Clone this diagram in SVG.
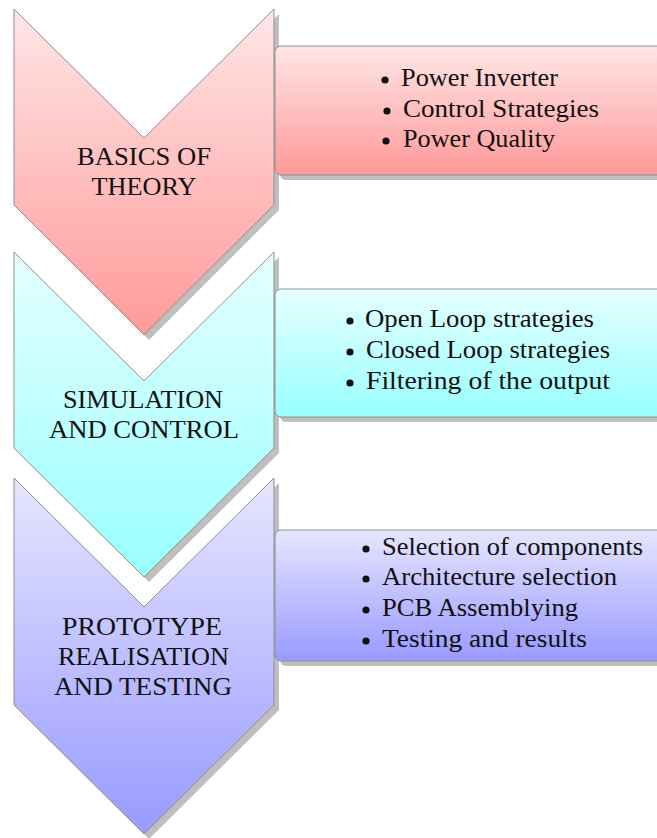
<svg xmlns="http://www.w3.org/2000/svg" width="657" height="838" viewBox="0 0 657 838">
  <defs>
    <linearGradient id="gRed" x1="0" y1="0" x2="0" y2="1">
      <stop offset="0" stop-color="#ffe6e6"/>
      <stop offset="1" stop-color="#ff9999"/>
    </linearGradient>
    <linearGradient id="gCyan" x1="0" y1="0" x2="0" y2="1">
      <stop offset="0" stop-color="#e6ffff"/>
      <stop offset="1" stop-color="#99ffff"/>
    </linearGradient>
    <linearGradient id="gBlue" x1="0" y1="0" x2="0" y2="1">
      <stop offset="0" stop-color="#e6e6ff"/>
      <stop offset="1" stop-color="#9999ff"/>
    </linearGradient>
    <style>
      .shadow { fill: #bfbfbf; }
      .edge { stroke: #8f8f8f; stroke-width: 1; }
      text { font-family: "Liberation Serif", Tinos, "Times New Roman", Times, "Nimbus Roman", "Nimbus Roman No9 L", "Noto Serif", "DejaVu Serif", FreeSerif, serif; font-size: 26px; fill: #111; }
      .mid { text-anchor: middle; }
      .dot { fill: #111; }
    </style>
  </defs>

  <rect width="657" height="838" fill="#ffffff"/>

  <!-- Stage 1: basics of theory -->
  <g id="stage1">
    <polygon class="shadow" points="19,14 149,143 279,14 279,210 149,340 19,210"/>
    <polygon class="edge" fill="url(#gRed)" points="14,9 144,138 274,9 274,205 144,335 14,205"/>
    <text class="mid" x="144" y="165" textLength="134" lengthAdjust="spacingAndGlyphs">BASICS OF</text>
    <text class="mid" x="144" y="195" textLength="105" lengthAdjust="spacingAndGlyphs">THEORY</text>
  </g>
  <g id="details1">
    <rect class="shadow" x="280" y="51" width="400" height="129" rx="6"/>
    <rect class="edge" fill="url(#gRed)" x="275" y="46" width="400" height="129" rx="6"/>
    <circle class="dot" cx="385" cy="80" r="3.6"/>
    <text x="401" y="86" textLength="157" lengthAdjust="spacingAndGlyphs">Power Inverter</text>
    <circle class="dot" cx="387" cy="111" r="3.6"/>
    <text x="403" y="117" textLength="196" lengthAdjust="spacingAndGlyphs">Control Strategies</text>
    <circle class="dot" cx="386" cy="141" r="3.6"/>
    <text x="403" y="147" textLength="152" lengthAdjust="spacingAndGlyphs">Power Quality</text>
  </g>

  <!-- Stage 2: simulation and control -->
  <g id="stage2">
    <polygon class="shadow" points="19,257 149,386 279,257 279,453 149,582 19,453"/>
    <polygon class="edge" fill="url(#gCyan)" points="14,252 144,381 274,252 274,448 144,577 14,448"/>
    <text class="mid" x="143" y="408" textLength="160" lengthAdjust="spacingAndGlyphs">SIMULATION</text>
    <text class="mid" x="144" y="438" textLength="190" lengthAdjust="spacingAndGlyphs">AND CONTROL</text>
  </g>
  <g id="details2">
    <rect class="shadow" x="280" y="294" width="400" height="128" rx="6"/>
    <rect class="edge" fill="url(#gCyan)" x="275" y="289" width="400" height="128" rx="6"/>
    <circle class="dot" cx="350" cy="321" r="3.6"/>
    <text x="365" y="327" textLength="229" lengthAdjust="spacingAndGlyphs">Open Loop strategies</text>
    <circle class="dot" cx="350" cy="352" r="3.6"/>
    <text x="366" y="358" textLength="244" lengthAdjust="spacingAndGlyphs">Closed Loop strategies</text>
    <circle class="dot" cx="350" cy="383" r="3.6"/>
    <text x="366" y="389" textLength="244" lengthAdjust="spacingAndGlyphs">Filtering of the output</text>
  </g>

  <!-- Stage 3: prototype realisation and testing -->
  <g id="stage3">
    <polygon class="shadow" points="19,483 149,612 279,483 279,710 149,839 19,710"/>
    <polygon class="edge" fill="url(#gBlue)" points="14,478 144,607 274,478 274,705 144,834 14,705"/>
    <text class="mid" x="142" y="635" textLength="160" lengthAdjust="spacingAndGlyphs">PROTOTYPE</text>
    <text class="mid" x="143.5" y="665" textLength="171" lengthAdjust="spacingAndGlyphs">REALISATION</text>
    <text class="mid" x="143" y="695" textLength="178" lengthAdjust="spacingAndGlyphs">AND TESTING</text>
  </g>
  <g id="details3">
    <rect class="shadow" x="280" y="535" width="400" height="131" rx="6"/>
    <rect class="edge" fill="url(#gBlue)" x="275" y="530" width="400" height="131" rx="6"/>
    <circle class="dot" cx="366" cy="549" r="3.6"/>
    <text x="382" y="555" textLength="261" lengthAdjust="spacingAndGlyphs">Selection of components</text>
    <circle class="dot" cx="366" cy="579" r="3.6"/>
    <text x="382" y="585" textLength="235" lengthAdjust="spacingAndGlyphs">Architecture selection</text>
    <circle class="dot" cx="366" cy="610" r="3.6"/>
    <text x="382" y="616" textLength="196" lengthAdjust="spacingAndGlyphs">PCB Assemblying</text>
    <circle class="dot" cx="366" cy="641" r="3.6"/>
    <text x="382" y="647" textLength="205" lengthAdjust="spacingAndGlyphs">Testing and results</text>
  </g>

  <g id="connectors"/>
</svg>
